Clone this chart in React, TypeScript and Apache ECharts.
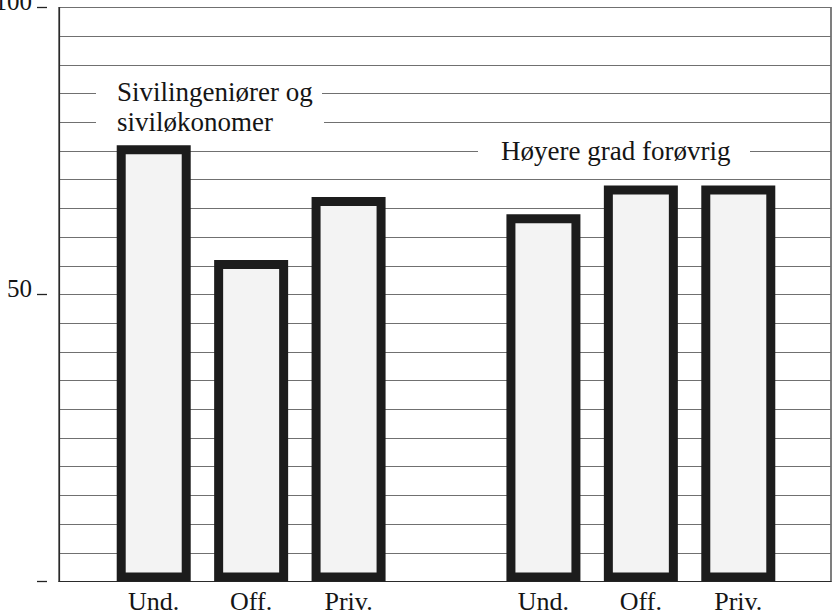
import React, { useEffect, useRef } from "react";
import * as echarts from "echarts";

const categories = ["Und.", "Off.", "Priv."];
const sivilValues = [76, 56, 67];
const hoyereValues = [64, 69, 69];
const yTickLabels = [0, 50, 100];
const groupLabels = ["Sivilingeniører og", "siviløkonomer", "Høyere grad forøvrig"];

const FONT = "'Liberation Serif', 'DejaVu Serif', serif";

export default function App() {
  const ref = useRef<HTMLDivElement>(null);
  useEffect(() => {
    if (!ref.current) return;
    const chart = echarts.init(ref.current, null, { renderer: "svg" });
    const xCats = [...categories, "", ...categories];
    const barData = [...sivilValues, null, ...hoyereValues];
    const gridTop = 7.5;
    const gridBottom = 34.5;
    const option: any = {
      animation: false,
      backgroundColor: "#ffffff",
      grid: [
        {
          left: 59,
          right: 2,
          top: gridTop,
          bottom: gridBottom,
          show: true,
          borderColor: "#2a2a2a",
          borderWidth: 1.2,
          backgroundColor: "transparent",
          containLabel: false,
          outerBoundsMode: "none",
        },
        {
          left: 105,
          right: 46,
          top: gridTop,
          bottom: gridBottom,
          containLabel: false,
          outerBoundsMode: "none",
        },
      ],
      xAxis: [
        {
          type: "category",
          gridIndex: 0,
          data: [""],
          axisLine: { show: true, lineStyle: { color: "#2a2a2a", width: 1.2 } },
          axisTick: { show: false },
          axisLabel: { show: false },
          splitLine: { show: false },
        },
        {
          type: "category",
          gridIndex: 1,
          data: xCats,
          axisLine: { show: false },
          axisTick: { show: false },
          axisLabel: {
            show: true,
            color: "#151515",
            fontFamily: FONT,
            fontSize: 26,
            margin: 7,
          },
          splitLine: { show: false },
        },
      ],
      yAxis: [
        {
          type: "value",
          gridIndex: 0,
          min: 0,
          max: 100,
          interval: 5,
          axisLine: { show: true, lineStyle: { color: "#2a2a2a", width: 1.2 } },
          axisTick: { show: false },
          axisLabel: { show: false },
          splitLine: { show: true, lineStyle: { color: "#707070", width: 1.2 } },
        },
        {
          type: "value",
          gridIndex: 0,
          position: "left",
          offset: 12,
          min: 0,
          max: 100,
          interval: 50,
          axisLine: { show: false },
          axisTick: { show: true, length: 10, inside: false, lineStyle: { color: "#222", width: 1.3 } },
          axisLabel: {
            show: true,
            margin: 15,
            color: "#151515",
            fontFamily: FONT,
            fontSize: 25,
            verticalAlign: "bottom",
            lineHeight: 12,
            formatter: (v: number) => (yTickLabels.includes(v) && v !== 0 ? String(v) : ""),
          },
          splitLine: { show: false },
        },
        {
          type: "value",
          gridIndex: 1,
          min: 0,
          max: 100,
          show: false,
        },
      ],
      series: [
        {
          type: "bar",
          xAxisIndex: 1,
          yAxisIndex: 2,
          data: barData,
          barWidth: 74,
          itemStyle: {
            color: "#f3f3f3",
            borderColor: "#1c1c1c",
            borderWidth: 9,
          },
          z: 5,
        },
      ],
      graphic: [
        { type: "rect", shape: { x: 96, y: 90, width: 226, height: 8 }, style: { fill: "#fff" }, z: 10 },
        { type: "rect", shape: { x: 96, y: 119, width: 228, height: 8 }, style: { fill: "#fff" }, z: 10 },
        { type: "rect", shape: { x: 478, y: 147, width: 272, height: 8 }, style: { fill: "#fff" }, z: 10 },
        {
          type: "text",
          x: 117,
          y: 92,
          z: 11,
          style: { text: groupLabels[0], font: `27px ${FONT}`, fill: "#151515", textVerticalAlign: "middle", verticalAlign: "middle" },
        },
        {
          type: "text",
          x: 117,
          y: 122,
          z: 11,
          style: { text: groupLabels[1], font: `27px ${FONT}`, fill: "#151515", textVerticalAlign: "middle", verticalAlign: "middle" },
        },
        {
          type: "text",
          x: 501,
          y: 151,
          z: 11,
          style: { text: groupLabels[2], font: `27px ${FONT}`, fill: "#151515", textVerticalAlign: "middle", verticalAlign: "middle" },
        },
      ],
    };
    chart.setOption(option);
    return () => chart.dispose();
  }, []);
  return (
    <div
      ref={ref}
      style={{ position: "fixed", left: 0, top: 0, width: 833, height: 616, background: "#fff" }}
    />
  );
}
